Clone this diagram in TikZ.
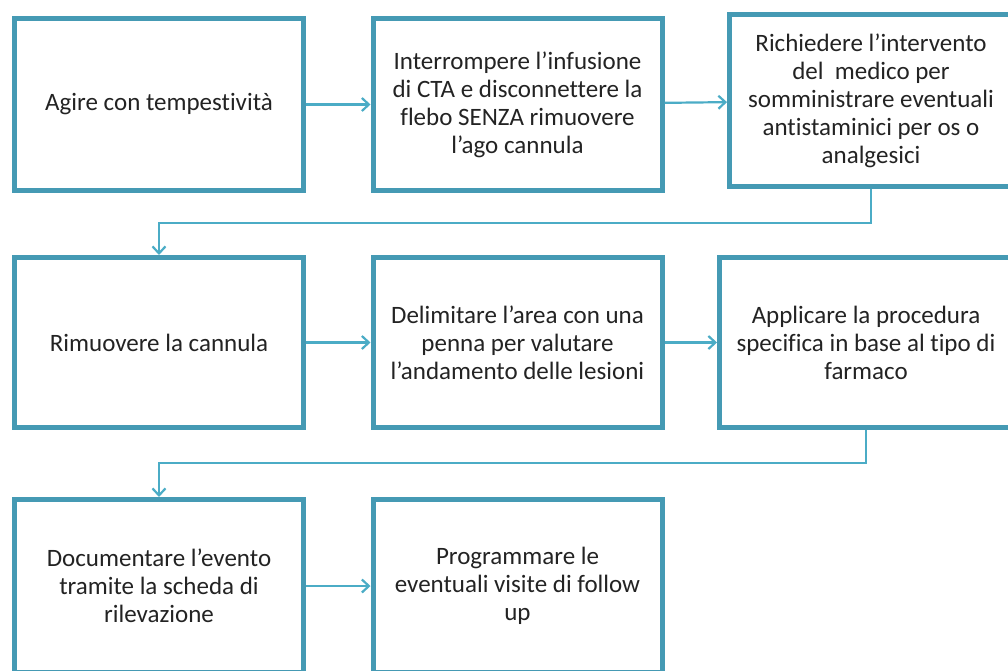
\documentclass[tikz,border=0pt]{standalone}
\usepackage{fontspec}
\setmainfont{Carlito}[Ligatures={NoCommon}]
\usepackage{xcolor}
\usepackage{tikz}
\usetikzlibrary{arrows.meta}
\usetikzlibrary{positioning}

\definecolor{bordo}{RGB}{69,154,180}
\definecolor{freccia}{RGB}{75,172,198}
\definecolor{testo}{RGB}{35,35,35}

\tikzset{
  passo/.style={draw=bordo, line width=5pt, fill=white, align=center,
    text=testo, font=\fontsize{25}{28}\selectfont,
    minimum width=289pt, minimum height=172pt, inner sep=0pt},
  flusso/.style={->, draw=freccia, line width=2.2pt}
}

\begin{document}
\begin{tikzpicture}[x=1pt, y=-1pt, >={Straight Barb[length=7pt, width=13pt]}]

  \useasboundingbox (0,0) rectangle (1008,670);

  % 1. Prima riga
  \node[passo] (agire) at (159,104.5) {Agire con tempestività};
  \node[passo] (interrompere) at (517.5,104.5)
    {Interrompere l'infusione\\di CTA e disconnettere la\\flebo SENZA rimuovere\\l'ago cannula};
  \node[passo, minimum width=283pt] (medico) at (871,100.5)
    {Richiedere l'intervento\\del\ \ medico per\\somministrare eventuali\\antistaminici per os o\\analgesici};

  % 2. Seconda riga
  \node[passo, minimum height=170pt] (rimuovere) at (159,342.5) {Rimuovere la cannula};
  \node[passo, minimum height=170pt] (delimitare) at (517.5,342.5)
    {Delimitare l'area con una\\penna per valutare\\l'andamento delle lesioni};
  \node[passo, minimum width=293pt, minimum height=170pt] (procedura) at (866,342.5)
    {Applicare la procedura\\specifica in base al tipo di\\farmaco};

  % 3. Terza riga
  \node[passo, minimum height=173pt] (documentare) at (159,586)
    {Documentare l'evento\\tramite la scheda di\\rilevazione};
  \node[passo, minimum height=173pt] (programmare) at (517.5,586)
    {Programmare le\\eventuali visite di follow\\up};

  % 4. Frecce
  \draw[flusso] (agire) -- (interrompere);
  \draw[flusso] (interrompere) -- (medico);
  \draw[flusso] (medico.south) -- ++(0,34) -| (rimuovere.north);
  \draw[flusso] (rimuovere) -- (delimitare);
  \draw[flusso] (delimitare) -- (procedura);
  \draw[flusso] (procedura.south) -- ++(0,33) -| (documentare.north);
  \draw[flusso] (documentare) -- (programmare);

\end{tikzpicture}
\end{document}
